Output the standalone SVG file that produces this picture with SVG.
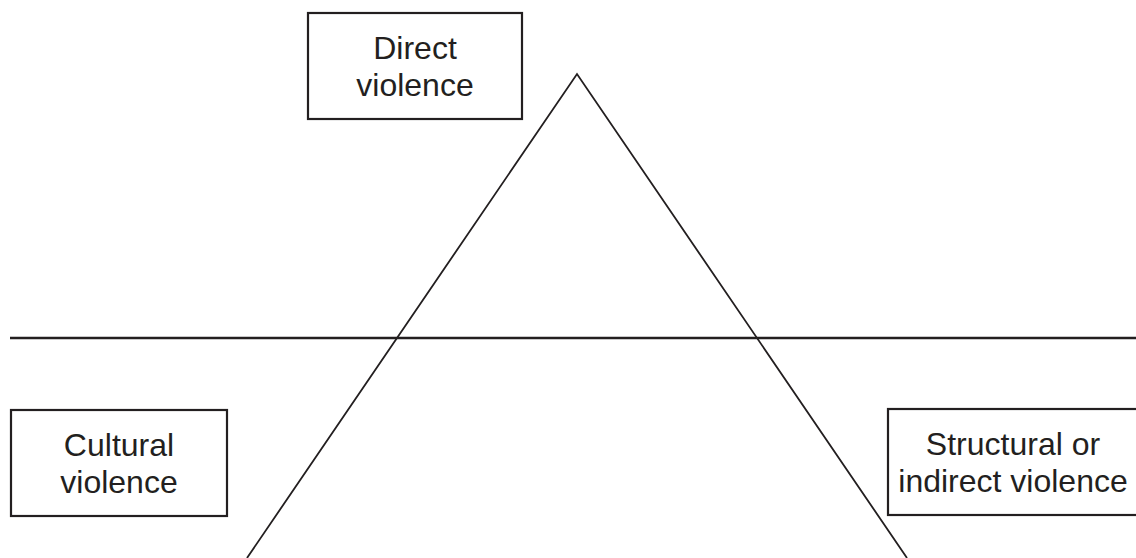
<svg xmlns="http://www.w3.org/2000/svg" width="1136" height="558" viewBox="0 0 1136 558">
<style>
.box{fill:#fff;stroke:#231f20;stroke-width:2.2}
.t{font-family:"Liberation Sans",Arial,sans-serif;font-size:32px;fill:#231f20;text-anchor:middle}
.ln{stroke:#231f20;fill:none}
</style>
<rect width="1136" height="558" fill="#fff"/>
<g id="connectors">
<line class="ln" x1="10" y1="338" x2="1136" y2="338" stroke-width="2.6"/>
<polyline class="ln" points="247,558 577,74 907,558" stroke-width="1.8"/>
</g>
<g id="direct">
<rect class="box" x="308" y="13" width="214" height="106"/>
<text class="t" x="415" y="59">Direct</text>
<text class="t" x="415" y="96">violence</text>
</g>
<g id="cultural">
<rect class="box" x="11" y="410" width="216" height="106"/>
<text class="t" x="119" y="456">Cultural</text>
<text class="t" x="119" y="493">violence</text>
</g>
<g id="structural">
<rect class="box" x="888" y="409" width="260" height="106"/>
<text class="t" x="1013" y="455">Structural or</text>
<text class="t" x="1013" y="492">indirect violence</text>
</g>
</svg>
